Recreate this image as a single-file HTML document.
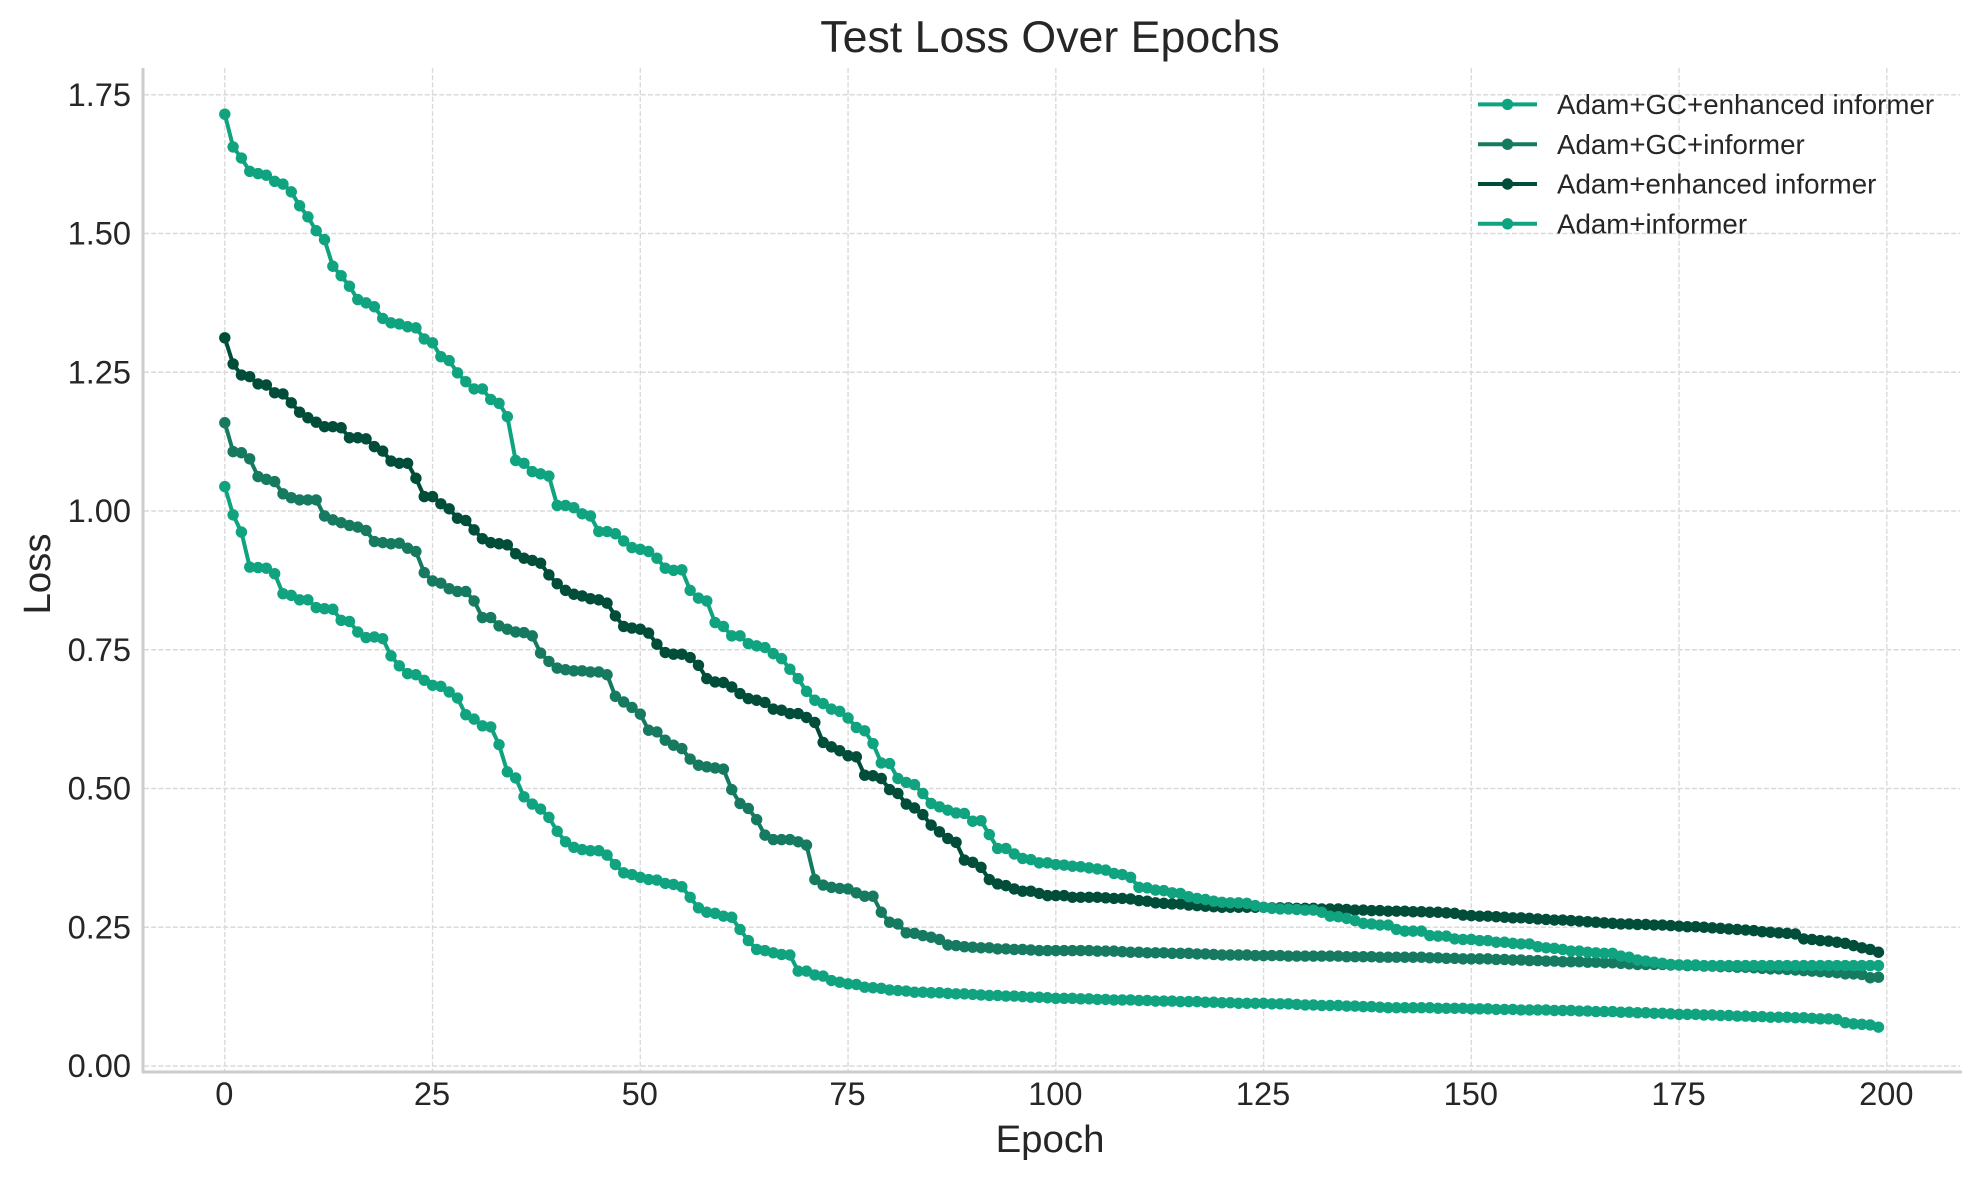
<!DOCTYPE html>
<html lang="en">
<head>
<meta charset="utf-8">
<title>Test Loss Over Epochs</title>
<style>
  html, body { margin: 0; padding: 0; background: #ffffff; }
  body { width: 1979px; height: 1180px; overflow: hidden; }
  svg { display: block; font-family: "Liberation Sans", Arial, sans-serif; }
  text { fill: #262626; }
</style>
</head>
<body>
<svg id="chart" xmlns="http://www.w3.org/2000/svg" width="1979" height="1180" viewBox="0 0 1979 1180">
  <rect x="0" y="0" width="1979" height="1180" fill="#ffffff"/>
  <g id="grid"></g>
  <g id="series"></g>
  <line x1="143" y1="68" x2="143" y2="1073" stroke="#cccccc" stroke-width="3"/>
  <line x1="142" y1="1072" x2="1962" y2="1072" stroke="#cccccc" stroke-width="3"/>
  <g id="ticks"></g>
  <text x="1050" y="52" font-size="44.7" text-anchor="middle">Test Loss Over Epochs</text>
  <text x="1050" y="1152" font-size="38.4" text-anchor="middle">Epoch</text>
  <text x="0" y="0" font-size="38.4" text-anchor="middle" transform="translate(50 574) rotate(-90)">Loss</text>
  <g id="legend"></g>
</svg>
<script>
const xTickValues = [0, 25, 50, 75, 100, 125, 150, 175, 200];
const yTickValues = [0, 0.25, 0.5, 0.75, 1.0, 1.25, 1.5, 1.75];
const seriesNames = ["Adam+GC+enhanced informer", "Adam+GC+informer", "Adam+enhanced informer", "Adam+informer"];
const seriesColors = ["#10a37f", "#167a60", "#004d3a", "#10a37f"];

const adamGcEnhanced = [
  1.044,.993,.962,.899,.898,.897,.887,.851,.848,.840,
  .840,.826,.824,.823,.803,.801,.782,.772,.773,.770,
  .739,.721,.707,.705,.695,.686,.684,.674,.663,.633,
  .625,.613,.611,.579,.530,.519,.485,.472,.463,.448,
  .423,.404,.394,.390,.388,.388,.380,.363,.348,.345,
  .340,.336,.335,.329,.327,.323,.304,.285,.277,.275,
  .270,.268,.246,.226,.210,.208,.204,.201,.200,.171,
  .171,.164,.162,.154,.151,.148,.147,.142,.141,.140,
  .137,.136,.135,.133,.133,.132,.132,.131,.130,.130,
  .129,.128,.127,.127,.126,.126,.125,.124,.124,.123,
  .122,.122,.122,.121,.121,.120,.120,.119,.119,.119,
  .118,.118,.117,.117,.117,.116,.116,.116,.115,.115,
  .114,.114,.113,.113,.113,.113,.112,.112,.112,.111,
  .110,.110,.109,.109,.109,.108,.108,.107,.107,.106,
  .105,.105,.105,.105,.105,.105,.104,.104,.104,.104,
  .103,.103,.103,.102,.102,.102,.101,.101,.101,.101,
  .100,.100,.100,.099,.099,.098,.098,.098,.097,.097,
  .096,.096,.095,.095,.094,.093,.093,.093,.092,.092,
  .091,.091,.090,.090,.089,.089,.088,.088,.088,.087,
  .087,.086,.085,.085,.084,.078,.076,.075,.074,.070
];
const adamGcInformer = [
  1.159,1.107,1.105,1.094,1.062,1.057,1.053,1.031,1.024,1.020,
  1.020,1.020,.991,.984,.979,.974,.971,.965,.945,.943,
  .941,.942,.933,.927,.889,.874,.870,.860,.855,.855,
  .838,.808,.808,.793,.787,.782,.781,.775,.744,.729,
  .717,.714,.712,.712,.710,.710,.705,.666,.656,.646,
  .634,.605,.602,.587,.578,.572,.553,.542,.539,.537,
  .535,.498,.473,.464,.444,.416,.408,.408,.408,.404,
  .398,.336,.326,.322,.320,.319,.312,.306,.306,.277,
  .259,.256,.240,.239,.235,.232,.228,.218,.217,.215,
  .214,.213,.213,.211,.211,.210,.210,.209,.208,.208,
  .208,.208,.208,.208,.208,.207,.207,.207,.206,.205,
  .205,.204,.204,.204,.203,.203,.203,.202,.202,.201,
  .200,.200,.200,.200,.199,.199,.199,.199,.198,.198,
  .198,.198,.198,.198,.198,.197,.197,.197,.197,.196,
  .196,.196,.196,.196,.196,.195,.195,.194,.194,.193,
  .193,.193,.193,.192,.192,.191,.191,.190,.190,.189,
  .189,.188,.188,.188,.187,.187,.186,.186,.185,.184,
  .183,.183,.183,.183,.182,.182,.181,.181,.180,.180,
  .179,.179,.178,.178,.177,.176,.175,.175,.174,.173,
  .172,.171,.170,.169,.168,.166,.166,.165,.159,.160
];
const adamEnhanced = [
  1.312,1.265,1.245,1.242,1.229,1.227,1.213,1.211,1.195,1.178,
  1.168,1.160,1.152,1.152,1.150,1.132,1.132,1.130,1.116,1.108,
  1.090,1.086,1.086,1.059,1.026,1.026,1.013,1.004,.987,.983,
  .966,.950,.943,.941,.939,.923,.915,.911,.906,.885,
  .869,.857,.850,.847,.842,.840,.834,.811,.792,.789,
  .787,.780,.760,.745,.742,.742,.736,.722,.698,.692,
  .691,.683,.671,.662,.659,.655,.643,.641,.635,.635,
  .628,.619,.583,.575,.568,.559,.557,.524,.523,.518,
  .498,.491,.472,.465,.453,.434,.422,.410,.403,.371,
  .367,.358,.336,.328,.325,.319,.315,.315,.311,.307,
  .307,.307,.304,.304,.304,.304,.303,.302,.302,.301,
  .298,.297,.294,.293,.292,.292,.290,.289,.288,.287,
  .286,.286,.286,.286,.286,.286,.285,.285,.285,.284,
  .284,.284,.283,.283,.283,.282,.281,.281,.280,.280,
  .279,.279,.279,.278,.278,.277,.277,.276,.275,.272,
  .271,.270,.270,.269,.268,.267,.267,.266,.265,.264,
  .263,.263,.262,.261,.260,.259,.258,.257,.256,.256,
  .255,.255,.254,.254,.253,.252,.251,.251,.250,.249,
  .248,.247,.246,.245,.244,.242,.241,.240,.239,.238,
  .229,.228,.226,.225,.223,.221,.217,.213,.210,.205
];
const adamInformer = [
  1.715,1.656,1.636,1.612,1.608,1.605,1.594,1.589,1.575,1.550,
  1.530,1.505,1.489,1.441,1.424,1.405,1.381,1.375,1.368,1.347,
  1.339,1.337,1.332,1.330,1.310,1.303,1.278,1.271,1.249,1.233,
  1.220,1.220,1.201,1.194,1.170,1.091,1.086,1.071,1.067,1.063,
  1.010,1.010,1.006,.995,.991,.963,.963,.959,.946,.934,
  .931,.927,.915,.897,.893,.894,.857,.843,.838,.799,
  .792,.775,.775,.761,.757,.754,.743,.734,.715,.698,
  .675,.659,.653,.643,.639,.627,.610,.604,.581,.546,
  .545,.518,.511,.507,.491,.473,.467,.461,.456,.455,
  .441,.442,.417,.392,.392,.382,.374,.372,.366,.366,
  .363,.362,.360,.359,.357,.355,.353,.347,.345,.340,
  .322,.321,.317,.316,.312,.311,.305,.302,.300,.297,
  .295,.294,.294,.293,.289,.286,.284,.283,.283,.282,
  .281,.281,.277,.270,.269,.266,.262,.257,.256,.254,
  .254,.246,.243,.243,.243,.235,.234,.234,.229,.228,
  .228,.226,.226,.223,.223,.221,.220,.220,.215,.213,
  .212,.210,.207,.207,.205,.204,.203,.203,.198,.196,
  .191,.189,.187,.185,.183,.182,.182,.182,.181,.181,
  .181,.181,.181,.181,.181,.181,.181,.181,.181,.181,
  .181,.181,.181,.181,.181,.181,.181,.181,.181,.181
];

const NS = "http://www.w3.org/2000/svg";
const plotLeft = 144, plotRight = 1960, plotTop = 68, plotBottom = 1071;
const xScale = function (epoch) { return 224.8 + 8.31 * epoch; };
const yScale = function (loss) { return 1066 - 555 * loss; };
const gridLayer = document.getElementById("grid");
const seriesLayer = document.getElementById("series");
const tickLayer = document.getElementById("ticks");
const legendLayer = document.getElementById("legend");

function make(tag, attrs, parent) {
  const el = document.createElementNS(NS, tag);
  Object.keys(attrs).forEach(function (k) { el.setAttribute(k, attrs[k]); });
  parent.appendChild(el);
  return el;
}

xTickValues.forEach(function (t) {
  const line = make("line", { x1: xScale(t), x2: xScale(t), y1: plotTop, y2: plotBottom, stroke: "#dadada", "stroke-width": 1.4, "stroke-dasharray": "5 2.2" }, gridLayer);
  
  
  const label = make("text", { x: xScale(t) - 0.5, y: 1105, "font-size": 32.6, "text-anchor": "middle" }, tickLayer);
  label.textContent = String(t);
  
  
});

yTickValues.forEach(function (t) {
  const line = make("line", { x1: plotLeft, x2: plotRight, y1: yScale(t), y2: yScale(t), stroke: "#dadada", "stroke-width": 1.4, "stroke-dasharray": "5 2.2" }, gridLayer);
  
  
  const label = make("text", { x: 131, y: yScale(t) + 11, "font-size": 32.6, "text-anchor": "end" }, tickLayer);
  label.textContent = t.toFixed(2);
  
  
});

const allSeries = [adamGcEnhanced, adamGcInformer, adamEnhanced, adamInformer];
allSeries.forEach(function (values, s) {
  const group = make("g", {}, seriesLayer);
  
  
  const d = values.map(function (v, i) { return (i ? "L" : "M") + xScale(i).toFixed(2) + " " + yScale(v).toFixed(2); }).join("");
  const path = make("path", { d: d, fill: "none", stroke: seriesColors[s], "stroke-width": 4, "stroke-linejoin": "round" }, group);
  
  
  values.forEach(function (v, i) {
    const dot = make("circle", { cx: xScale(i).toFixed(2), cy: yScale(v).toFixed(2), r: 5.7, fill: seriesColors[s] }, group);
    
    
  });
});

seriesNames.forEach(function (name, s) {
  const cy = 104.4 + 39.8 * s;
  const entry = make("g", {}, legendLayer);
  
  
  const line = make("line", { x1: 1478, x2: 1537, y1: cy, y2: cy, stroke: seriesColors[s], "stroke-width": 4 }, entry);
  
  
  const dot = make("circle", { cx: 1507.5, cy: cy, r: 5.7, fill: seriesColors[s] }, entry);
  
  
  const label = make("text", { x: 1557, y: cy + 9.7, "font-size": 27.7 }, entry);
  label.textContent = name;
  
  
});
</script>
</body>
</html>
